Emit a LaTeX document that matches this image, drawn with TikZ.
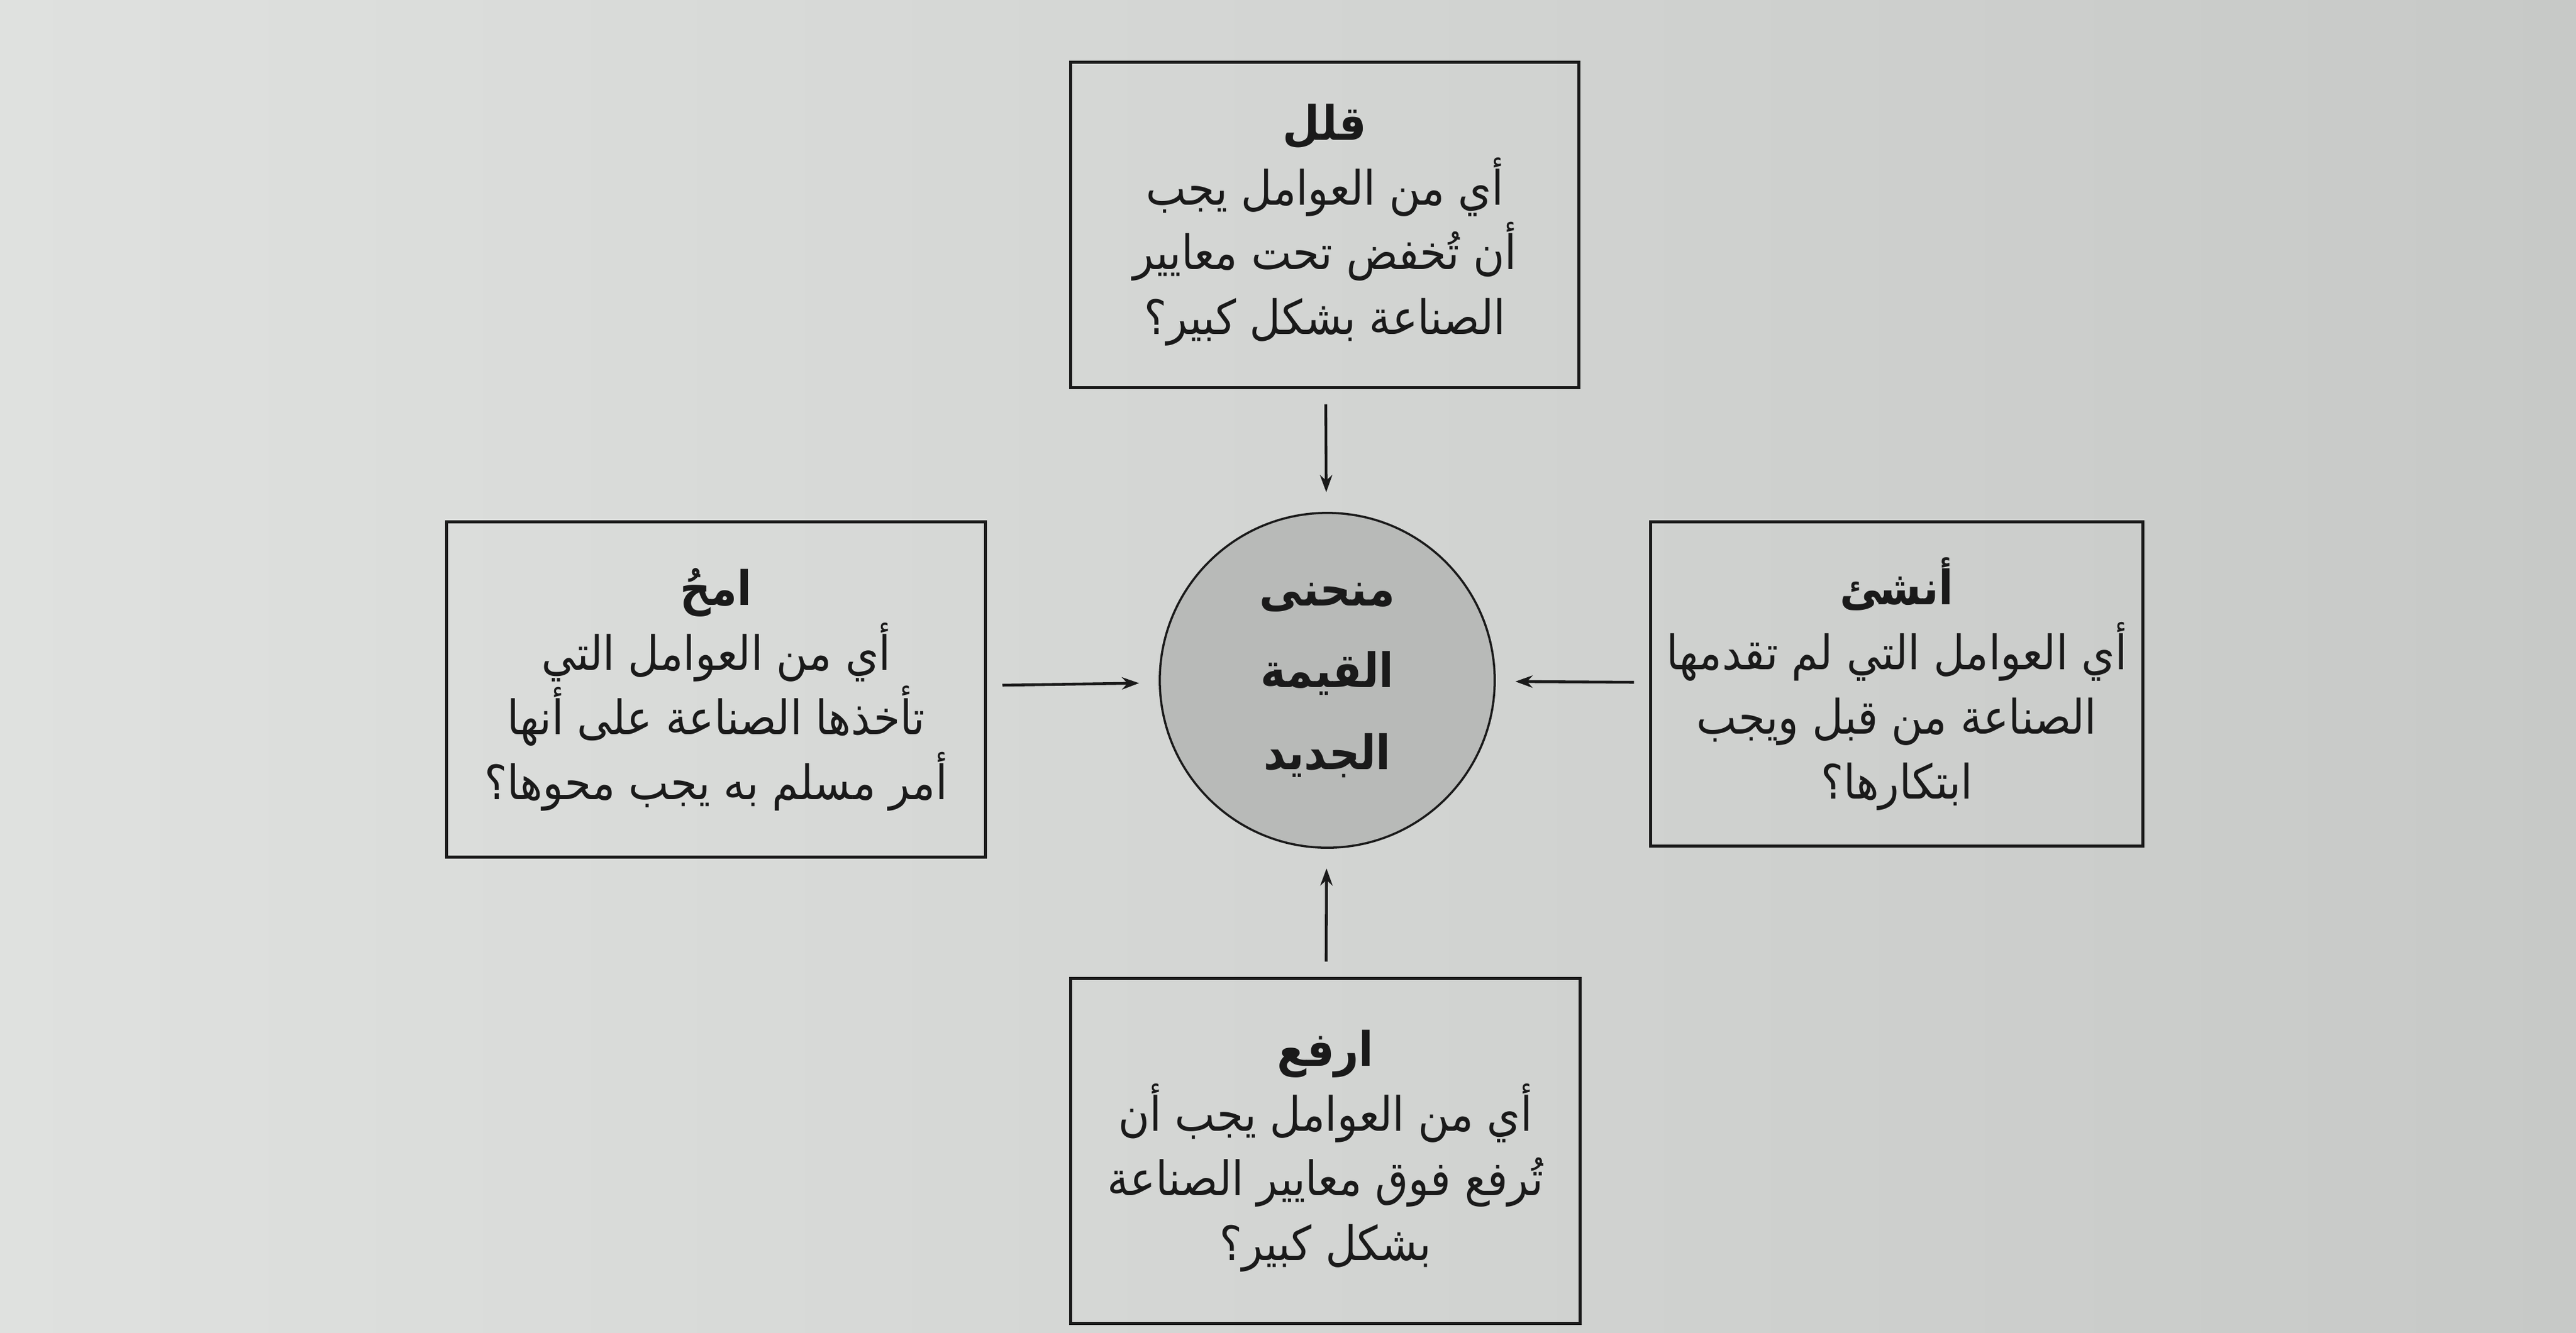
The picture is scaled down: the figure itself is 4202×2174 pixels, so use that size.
\documentclass[tikz,border=0pt]{standalone}
\usepackage{fontspec}
\newfontfamily\arabicfont[Script=Arabic, FakeStretch=0.9]{DejaVu Sans}
\TeXXeTstate=1
\usepackage{tikz}
\usetikzlibrary{arrows.meta}

\definecolor{paperL}{RGB}{223,225,223}
\definecolor{paperR}{RGB}{199,201,199}
\definecolor{dot}{RGB}{184,186,184}
\definecolor{ink}{RGB}{26,26,26}

\newcommand{\rtl}[1]{\beginR#1\endR}

\tikzset{
	question/.style={draw=ink, line width=1.4pt, align=center, inner sep=0pt, text=ink,
		font=\arabicfont\fontsize{22}{30}\selectfont},
	hub/.style={circle, draw=ink, line width=1pt, fill=dot, align=center, inner sep=0pt,
		minimum size=5.46cm, text=ink, font=\arabicfont\bfseries\fontsize{22}{38}\selectfont},
	feed/.style={draw=ink, line width=1.3pt, -{Stealth[length=0.28cm, width=0.2cm]},
		shorten <=0.25cm, shorten >=0.32cm}
}

\begin{document}
\begin{tikzpicture}[x=0.01cm, y=-0.01cm]
		\shade[left color=paperL, right color=paperR] (0,0) rectangle (4202,2174);
		\useasboundingbox (0,0) rectangle (4202,2174);

		\node[hub] (curve) at (2165,1110) {\rtl{منحنى}\\ \rtl{القيمة}\\ \rtl{الجديد}};

		\node[question, minimum width=8.28cm, minimum height=5.30cm] (reduce) at (2161,367)
		{\textbf{\rtl{قلل}}\\ \rtl{أي من العوامل يجب}\\ \rtl{أن تُخفض تحت معايير}\\ \rtl{الصناعة بشكل كبير؟}};
		\node[question, minimum width=8.79cm, minimum height=5.47cm] (eliminate) at (1168,1125)
		{\textbf{\rtl{امحُ}}\\ \rtl{أي من العوامل التي}\\ \rtl{تأخذها الصناعة على أنها}\\ \rtl{أمر مسلم به يجب محوها؟}};
		\node[question, minimum width=8.02cm, minimum height=5.28cm] (create) at (3094,1116)
		{\textbf{\rtl{أنشئ}}\\ \rtl{أي العوامل التي لم تقدمها}\\ \rtl{الصناعة من قبل ويجب}\\ \rtl{ابتكارها؟}};
		\node[question, minimum width=8.31cm, minimum height=5.63cm] (raise) at (2162,1878)
		{\textbf{\rtl{ارفع}}\\ \rtl{أي من العوامل يجب أن}\\ \rtl{تُرفع فوق معايير الصناعة}\\ \rtl{بشكل كبير؟}};

		\path[feed]
		(reduce) edge (curve)
		(eliminate) edge (curve)
		(create) edge (curve)
		(raise) edge (curve)
		;
\end{tikzpicture}
\end{document}
